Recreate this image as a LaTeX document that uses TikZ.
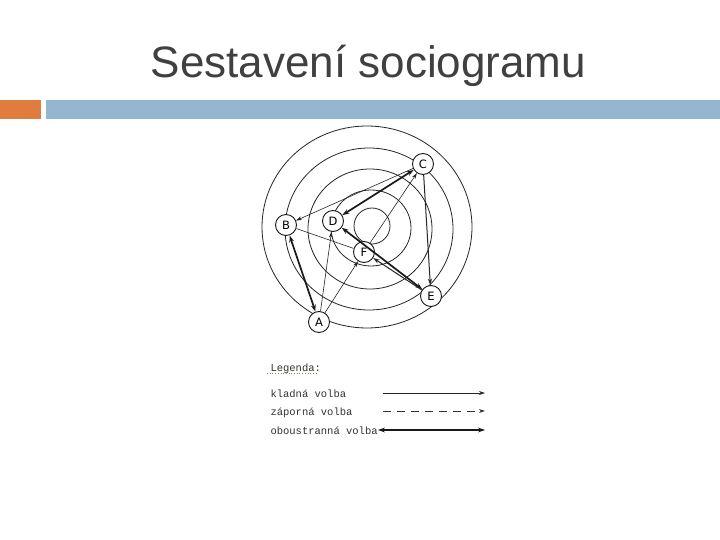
\documentclass[tikz,border=0pt]{standalone}
\usepackage{fontspec}
\setmainfont{Liberation Sans}
\newfontfamily\legfont{Liberation Mono}
\newfontfamily\nodefont{DejaVu Sans}
\usetikzlibrary{arrows.meta}
\definecolor{titlegray}{RGB}{64,64,64}
\definecolor{barorange}{RGB}{224,125,62}
\definecolor{barblue}{RGB}{148,182,208}
\definecolor{ulgreen}{RGB}{110,150,60}
\begin{document}
\begin{tikzpicture}[x=1pt,y=-1pt,
  ringline/.style={line width=0.8pt, draw=black!85},
  pers/.style={circle, draw=black!90, line width=0.9pt, fill=white,
    minimum size=21pt, inner sep=0pt, font=\nodefont\fontsize{11.5}{11.5}\selectfont},
  poschoice/.style={line width=0.6pt, draw=black!85, -{Stealth[length=6pt,width=3.8pt]}},
  posmid/.style={line width=1pt, draw=black!85, -{Stealth[length=6.5pt,width=4.2pt]}},
  mutchoice/.style={line width=1.7pt, draw=black!90,
    {Stealth[length=7pt,width=4.8pt]}-{Stealth[length=7pt,width=4.8pt]}},
  plainedge/.style={line width=0.6pt, draw=black!85},
  negchoice/.style={line width=0.7pt, draw=black!80, dash pattern=on 8pt off 6pt,
    -{Stealth[length=6pt,width=3.8pt]}},
  legtext/.style={anchor=base west, text=black!80, font=\legfont\fontsize{10.5}{10.5}\selectfont}
]
\useasboundingbox (0,0) rectangle (720,540);
\fill[white] (0,0) rectangle (720,540);

% title and bars
\node[anchor=base, text=titlegray, font=\fontsize{44}{44}\selectfont, inner sep=0pt] (title) at (368.5,78) {Sestavení sociogramu};
\fill[barorange] (0,100) rectangle (41,119);
\fill[barblue] (46,100) rectangle (720,119);

% concentric rings (hand drawn, slightly irregular)
\draw[ringline] (372,226) ellipse [x radius=18pt, y radius=18pt];
\draw[ringline] (371,228) ellipse [x radius=40pt, y radius=38pt];
\draw[ringline] (370,229) ellipse [x radius=62pt, y radius=60pt];
\draw[ringline] (369,229) ellipse [x radius=84pt, y radius=81pt];
\draw[ringline] (367,227) ellipse [x radius=105pt, y radius=101pt];

% persons
\node[pers] (A) at (319,322) {A};
\node[pers] (B) at (286,225) {B};
\node[pers] (C) at (423,164) {C};
\node[pers] (D) at (333,221) {D};
\node[pers] (E) at (431,296) {E};
\node[pers] (F) at (364,252) {F};

% choices
\draw[mutchoice] (C) -- (D);
\draw[mutchoice] (D) -- (E);
\draw[mutchoice] (A) -- (B);
\draw[posmid] (C) -- (E);
\draw[posmid] (E) -- (F);
\draw[poschoice] (C) -- (B);
\draw[poschoice] (F) -- (C);
\draw[poschoice] (A) -- (D);
\draw[poschoice] (A) -- (F);
\draw[plainedge] (B) -- (F);

% legend
\node[legtext] (leg) at (267,371) {Legenda:};
\draw[ulgreen, line width=0.7pt, dotted] ([yshift=-2.5pt]leg.base west) -- ([yshift=-2.5pt, xshift=-7pt]leg.base east);
\node[legtext] (l1) at (267,397) {kladná volba};
\node[legtext] (l2) at (267,415) {záporná volba};
\node[legtext] (l3) at (267,434) {oboustranná volba};
\coordinate (k1a) at (383,393);
\coordinate (k1b) at (485,393);
\coordinate (k2a) at (383,411);
\coordinate (k2b) at (485,411);
\coordinate (k3a) at (378,430);
\coordinate (k3b) at (485,430);
\draw[poschoice] (k1a) -- (k1b);
\draw[negchoice] (k2a) -- (k2b);
\draw[mutchoice] (k3a) -- (k3b);
\end{tikzpicture}
\end{document}
